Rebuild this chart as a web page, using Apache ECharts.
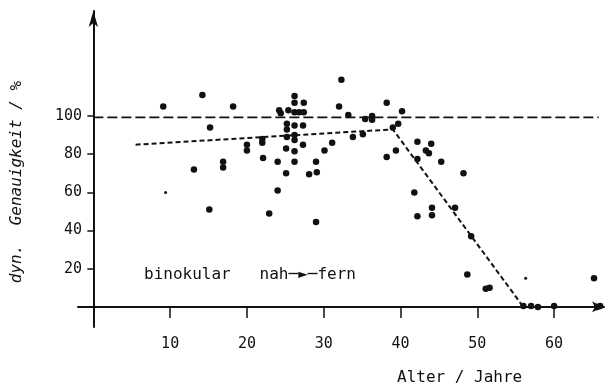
<!DOCTYPE html>
<html>
<head>
<meta charset="utf-8">
<script src="https://cdn.jsdelivr.net/npm/echarts@6/dist/echarts.min.js"></script>
<style>
  html, body { margin: 0; padding: 0; background: #fff; }
  #chart { width: 608px; height: 389px; }
</style>
</head>
<body>
<div id="chart"></div>
<script>
// Alter (Jahre) und dyn. Genauigkeit (%) der Messpunkte
const ages = [
  9.1, 13.1, 14.2, 15.2, 15.1, 18.2, 16.9, 16.9, 20, 20,
  22, 22, 22.1, 22.9, 24, 24, 24.2, 24.4, 25.1, 25.4,
  25.2, 25.2, 25.2, 25.1, 26.2, 26.2, 27.4, 26.2, 26.8, 27.4,
  26.2, 27.3, 26.2, 26.2, 27.3, 26.2, 26.2, 29, 28.1, 29.1,
  29, 30.1, 31.1, 32, 32.3, 33.2, 33.8, 35.1, 35.4, 36.3,
  36.3, 38.2, 38.2, 39, 39.7, 39.4, 40.2, 41.8, 42.2, 42.2,
  42.2, 43.3, 43.7, 44, 44.1, 44.1, 45.3, 47.1, 48.2, 48.7,
  49.2, 51.1, 51.6, 56, 57, 57.9, 60, 65.2, 65.6, 66
];
const accuracy = [
  105, 72, 111, 94, 51, 105, 76, 73, 85, 82,
  88, 86, 78, 49, 76, 61, 103, 101.5, 70, 103,
  96, 93, 89, 83, 110.5, 107, 107, 102, 102, 102,
  95, 95, 90, 87.5, 85, 81.5, 76, 76, 69.5, 70.5,
  44.5, 82, 86, 105, 119, 100.5, 89, 90.5, 98.5, 100,
  98, 107, 78.5, 94, 96, 82, 102.5, 60, 86.5, 77.5,
  47.5, 82, 80.5, 85.5, 52, 48, 76, 52, 70, 17,
  37, 9.5, 10, 0.5, 0.5, 0, 0.5, 15, 0, 0.5
];
// kleine, schwache Punkte
const faintAges = [9.4, 56.3];
const faintAccuracy = [60, 15];

// Linien
const refAges = [0, 65.8];
const refAccuracy = [99.3, 99.3];
const fitAges = [5.5, 39, 56];
const fitAccuracy = [85, 93, 0];

const xTicks = [10, 20, 30, 40, 50, 60];
const yTicks = [20, 40, 60, 80, 100];

const zip = (a, b) => a.map((v, i) => [v, b[i]]);

const ink = '#111';
const mono = "'DejaVu Sans Mono', monospace";

const chart = echarts.init(document.getElementById('chart'));
chart.setOption({
  animation: false,
  backgroundColor: '#fff',
  grid: { left: 78, right: 4, top: 11, bottom: 62, containLabel: false },
  xAxis: {
    type: 'value',
    min: -2,
    max: 66.5,
    splitLine: { show: false },
    axisLine: {
      onZero: true,
      lineStyle: { color: ink, width: 2 },
      symbol: ['none', 'arrow'],
      symbolSize: [8, 12]
    },
    axisTick: { customValues: xTicks, length: 11, lineStyle: { color: ink, width: 1.5 } },
    axisLabel: {
      customValues: xTicks,
      margin: 10,
      color: ink,
      fontFamily: mono,
      fontSize: 15
    }
  },
  yAxis: {
    type: 'value',
    min: -10.5,
    max: 155,
    splitLine: { show: false },
    axisLine: {
      onZero: true,
      lineStyle: { color: ink, width: 2 },
      symbol: ['none', 'arrow'],
      symbolSize: [7, 16]
    },
    axisTick: { customValues: yTicks, length: 6, lineStyle: { color: ink, width: 1.5 } },
    axisLabel: {
      customValues: yTicks,
      margin: -4,
      color: ink,
      fontFamily: mono,
      fontSize: 15
    }
  },
  graphic: [
    {
      type: 'text',
      x: 17,
      y: 182,
      rotation: Math.PI / 2,
      style: {
        text: 'dyn.  Genauigkeit / %',
        fill: ink,
        font: "italic 16px 'DejaVu Sans Mono', monospace",
        align: 'center',
        verticalAlign: 'middle'
      }
    },
    {
      type: 'text',
      left: 144,
      top: 267,
      style: {
        text: 'binokular   nah─►─fern',
        fill: ink,
        font: "16px 'DejaVu Sans Mono', monospace"
      }
    },
    {
      type: 'text',
      left: 397,
      top: 370,
      style: {
        text: 'Alter / Jahre',
        fill: ink,
        font: "16px 'DejaVu Sans Mono', monospace"
      }
    }
  ],
  series: [
    {
      type: 'line',
      data: zip(refAges, refAccuracy),
      showSymbol: false,
      lineStyle: { color: ink, width: 1.6, type: [10, 4] },
      z: 1
    },
    {
      type: 'line',
      data: zip(fitAges, fitAccuracy),
      showSymbol: false,
      lineStyle: { color: ink, width: 2, type: [5, 3] },
      z: 1
    },
    {
      type: 'scatter',
      data: zip(ages, accuracy),
      symbolSize: 6.5,
      itemStyle: { color: ink, opacity: 1 },
      z: 3
    },
    {
      type: 'scatter',
      data: zip(faintAges, faintAccuracy),
      symbolSize: 3,
      itemStyle: { color: ink, opacity: 1 },
      z: 3
    }
  ]
});
</script>
</body>
</html>
